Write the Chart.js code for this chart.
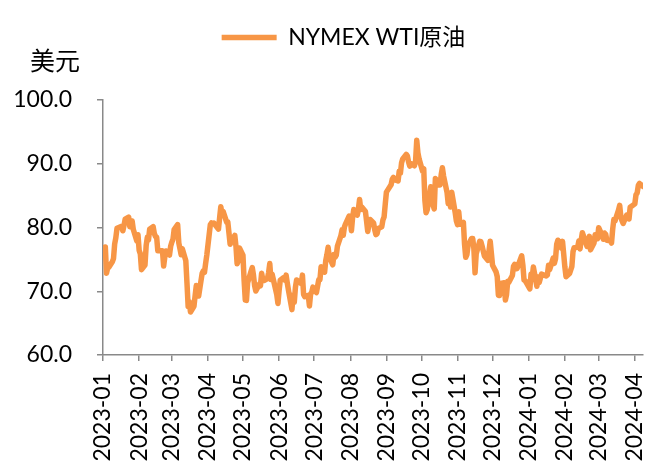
<!DOCTYPE html>
<html>
<head>
<meta charset="utf-8">
<script src="https://cdn.jsdelivr.net/npm/chart.js@4"></script>
<style>
  html, body { margin: 0; padding: 0; background: #fff; }
  #wrap { width: 660px; height: 465px; }
</style>
</head>
<body>
<div id="wrap"><canvas id="chart"></canvas></div>
<script>
const seriesName = 'NYMEX WTI原油';
const unitLabel = '美元';

// month labels on the x axis, also the months the daily data is grouped by
const monthLabels = ['2023-01', '2023-02', '2023-03', '2023-04', '2023-05', '2023-06', '2023-07', '2023-08',
  '2023-09', '2023-10', '2023-11', '2023-12', '2024-01', '2024-02', '2024-03', '2024-04'];

// trading days of each month
const tradeDays = [
  [3, 4, 5, 6, 9, 10, 11, 12, 13, 17, 18, 19, 20, 23, 24, 25, 26, 27, 30, 31],
  [1, 2, 3, 6, 7, 8, 9, 10, 13, 14, 15, 16, 17, 21, 22, 23, 24, 27, 28],
  [1, 2, 3, 6, 7, 8, 9, 10, 13, 14, 15, 16, 17, 20, 21, 22, 23, 24, 27, 28, 29, 30, 31],
  [3, 4, 5, 6, 10, 11, 12, 13, 14, 17, 18, 19, 20, 21, 24, 25, 26, 27, 28],
  [1, 2, 3, 4, 5, 8, 9, 10, 11, 12, 15, 16, 17, 18, 19, 22, 23, 24, 25, 26, 30, 31],
  [1, 2, 5, 6, 7, 8, 9, 12, 13, 14, 15, 16, 20, 21, 22, 23, 26, 27, 28, 29, 30],
  [3, 5, 6, 7, 10, 11, 12, 13, 14, 17, 18, 19, 20, 21, 24, 25, 26, 27, 28, 31],
  [1, 2, 3, 4, 7, 8, 9, 10, 11, 14, 15, 16, 17, 18, 21, 22, 23, 24, 25, 28, 29, 30, 31],
  [1, 5, 6, 7, 8, 11, 12, 13, 14, 15, 18, 19, 20, 21, 22, 25, 26, 27, 28, 29],
  [2, 3, 4, 5, 6, 9, 10, 11, 12, 13, 16, 17, 18, 19, 20, 23, 24, 25, 26, 27, 30, 31],
  [1, 2, 3, 6, 7, 8, 9, 10, 13, 14, 15, 16, 17, 20, 21, 22, 24, 27, 28, 29, 30],
  [1, 4, 5, 6, 7, 8, 11, 12, 13, 14, 15, 18, 19, 20, 21, 22, 26, 27, 28, 29],
  [2, 3, 4, 5, 8, 9, 10, 11, 12, 16, 17, 18, 19, 22, 23, 24, 25, 26, 29, 30, 31],
  [1, 2, 5, 6, 7, 8, 9, 12, 13, 14, 15, 16, 20, 21, 22, 23, 26, 27, 28, 29],
  [1, 4, 5, 6, 7, 8, 11, 12, 13, 14, 15, 18, 19, 20, 21, 22, 25, 26, 27, 28],
  [1, 2, 3, 4, 5, 8]
];

// WTI close, USD per barrel, same layout as tradeDays
const wtiClose = [
  [76.93, 72.84, 73.67, 73.77, 74.63, 75.12, 77.41, 78.39, 79.86, 80.18, 79.48, 80.33, 81.31, 81.62, 80.13, 80.15, 81.01, 79.68, 77.90, 78.87],
  [76.41, 75.88, 73.39, 74.11, 77.14, 78.47, 78.06, 79.72, 80.14, 79.06, 78.59, 78.49, 76.34, 76.36, 73.95, 75.39, 76.32, 75.68, 77.05],
  [77.69, 78.16, 79.68, 80.46, 77.58, 76.66, 75.72, 76.68, 74.80, 71.33, 67.61, 68.35, 66.74, 67.64, 69.33, 70.90, 69.96, 69.26, 72.81, 73.20, 72.97, 74.37, 75.67],
  [80.42, 80.71, 80.61, 80.70, 79.74, 81.53, 83.26, 82.16, 82.52, 80.83, 80.86, 79.16, 77.37, 77.87, 78.76, 77.07, 74.30, 74.76, 76.78],
  [75.66, 71.66, 68.60, 68.56, 71.34, 73.16, 73.71, 72.56, 70.87, 70.04, 71.11, 70.86, 72.83, 71.86, 71.69, 71.99, 72.91, 74.34, 71.83, 72.67, 69.46, 68.09],
  [70.10, 71.74, 72.15, 71.74, 72.53, 71.29, 70.17, 67.12, 69.42, 68.27, 70.62, 71.78, 71.19, 72.53, 69.51, 69.16, 69.37, 67.70, 69.56, 69.86, 70.64],
  [69.79, 71.79, 71.80, 73.86, 72.99, 74.83, 75.75, 76.89, 75.42, 74.15, 75.75, 75.35, 75.63, 77.07, 78.74, 79.63, 78.78, 80.09, 80.58, 81.80],
  [81.37, 79.49, 81.55, 82.82, 81.94, 82.92, 84.40, 82.82, 83.19, 82.51, 80.99, 79.38, 80.39, 81.25, 80.72, 79.64, 78.89, 79.05, 79.83, 80.10, 81.16, 81.63, 83.63],
  [85.55, 86.69, 87.54, 87.87, 87.51, 87.29, 88.84, 88.52, 90.16, 90.77, 91.48, 91.20, 90.28, 89.63, 90.03, 89.68, 90.39, 93.68, 91.71, 90.79],
  [88.82, 89.23, 84.22, 82.31, 82.79, 86.38, 85.97, 83.49, 82.91, 87.69, 86.66, 86.66, 88.32, 89.37, 88.08, 85.49, 83.74, 85.39, 83.21, 85.54, 82.31, 81.02],
  [80.44, 82.46, 80.51, 80.82, 77.37, 75.33, 75.74, 77.17, 78.26, 78.26, 76.66, 72.90, 75.89, 77.83, 77.77, 77.10, 75.54, 74.86, 76.41, 77.86, 75.96],
  [74.07, 73.04, 72.32, 69.38, 69.34, 71.23, 71.32, 68.61, 69.47, 71.58, 71.43, 72.47, 73.94, 74.22, 73.89, 73.56, 75.57, 74.11, 71.77, 71.65],
  [70.38, 72.70, 72.19, 73.81, 70.77, 72.24, 71.37, 72.02, 72.68, 72.40, 72.56, 74.08, 73.41, 75.19, 74.37, 75.09, 77.36, 78.01, 76.78, 77.82, 75.85],
  [73.82, 72.28, 72.78, 73.31, 73.86, 76.22, 76.84, 76.92, 77.87, 76.64, 78.03, 79.19, 77.04, 77.91, 78.61, 76.49, 77.58, 78.87, 78.54, 78.26],
  [79.97, 78.74, 78.15, 79.13, 78.93, 78.01, 77.93, 77.56, 79.72, 81.26, 81.04, 82.72, 83.47, 81.68, 81.07, 80.63, 81.95, 81.62, 81.35, 83.17],
  [83.71, 85.15, 85.43, 86.59, 86.91, 86.43]
];

// days since 2023-01-01, used as the x value
function dayOffset(ym, d) {
  const [y, m] = ym.split('-').map(Number);
  return (Date.UTC(y, m - 1, d) - Date.UTC(2023, 0, 1)) / 86400000;
}

const points = [];
monthLabels.forEach((ym, i) => {
  tradeDays[i].forEach((d, j) => points.push({ x: dayOffset(ym, d), y: wtiClose[i][j] }));
});
const monthTicks = monthLabels.map(ym => ({ value: dayOffset(ym, 1) }));
const lastDay = points[points.length - 1].x;

const lineColor = '#F79646';
const axisColor = '#898989';
const latin = "Lato, 'Noto Sans CJK SC', sans-serif";

Chart.defaults.font.family = latin;
Chart.defaults.color = '#000';

// leaves room under the legend for the unit label, nudges legend right like the original
const legendSpace = {
  id: 'legendSpace',
  beforeInit(chart) {
    const fit = chart.legend.fit;
    chart.legend.fit = function () {
      fit.call(this);
      this.height = 100;
    };
  },
  afterLayout(chart) {
    chart.legend.left += 22;
    chart.legend.right += 22;
  }
};

const unitText = {
  id: 'unitText',
  afterDraw(chart) {
    const ctx = chart.ctx;
    ctx.save();
    ctx.font = "25px 'Noto Sans CJK SC', sans-serif";
    ctx.fillStyle = '#000';
    ctx.textAlign = 'center';
    ctx.textBaseline = 'middle';
    ctx.fillText(unitLabel, chart.chartArea.left - 48, 60);
    ctx.restore();
  }
};

const ctx = document.getElementById('chart').getContext('2d');
new Chart(ctx, {
  type: 'line',
  data: {
    datasets: [{
      label: seriesName,
      data: points,
      borderColor: lineColor,
      backgroundColor: lineColor,
      borderWidth: 5.5,
      borderJoinStyle: 'round',
      borderCapStyle: 'round',
      tension: 0,
      pointRadius: 0
    }]
  },
  options: {
    responsive: true,
    maintainAspectRatio: false,
    animation: false,
    layout: {
      padding: { left: 0, right: 17, top: 0, bottom: 0 }
    },
    plugins: {
      tooltip: { enabled: false },
      legend: {
        display: true,
        position: 'top',
        labels: {
          usePointStyle: true,
          pointStyle: 'line',
          pointStyleWidth: 55,
          padding: 26,
          color: '#000',
          font: { size: 23, family: latin }
        }
      }
    },
    scales: {
      x: {
        type: 'linear',
        min: 0,
        max: lastDay,
        afterBuildTicks: (axis) => {
          axis.ticks = monthTicks.map(t => ({ value: t.value }));
        },
        afterFit: (axis) => {
          axis.height = 110;
          axis.paddingLeft = 0;
          axis.paddingRight = 0;
        },
        ticks: {
          autoSkip: false,
          maxRotation: 90,
          minRotation: 90,
          padding: 12,
          font: { size: 23 },
          callback: (value) => {
            const i = monthTicks.findIndex(t => t.value === value);
            return i >= 0 ? monthLabels[i] : '';
          }
        },
        grid: {
          drawOnChartArea: false,
          drawTicks: true,
          tickLength: 6,
          color: axisColor,
          lineWidth: 1.5
        },
        border: {
          display: true,
          color: axisColor,
          width: 1.5
        }
      },
      y: {
        min: 60,
        max: 100,
        afterFit: (axis) => {
          axis.width = 103;
        },
        ticks: {
          stepSize: 10,
          padding: 25,
          font: { size: 23 },
          callback: (value) => value.toFixed(1)
        },
        grid: {
          drawOnChartArea: false,
          drawTicks: true,
          tickLength: 6,
          color: axisColor,
          lineWidth: 1.5
        },
        border: {
          display: true,
          color: axisColor,
          width: 1.5
        }
      }
    }
  },
  plugins: [legendSpace, unitText]
});
</script>
</body>
</html>
